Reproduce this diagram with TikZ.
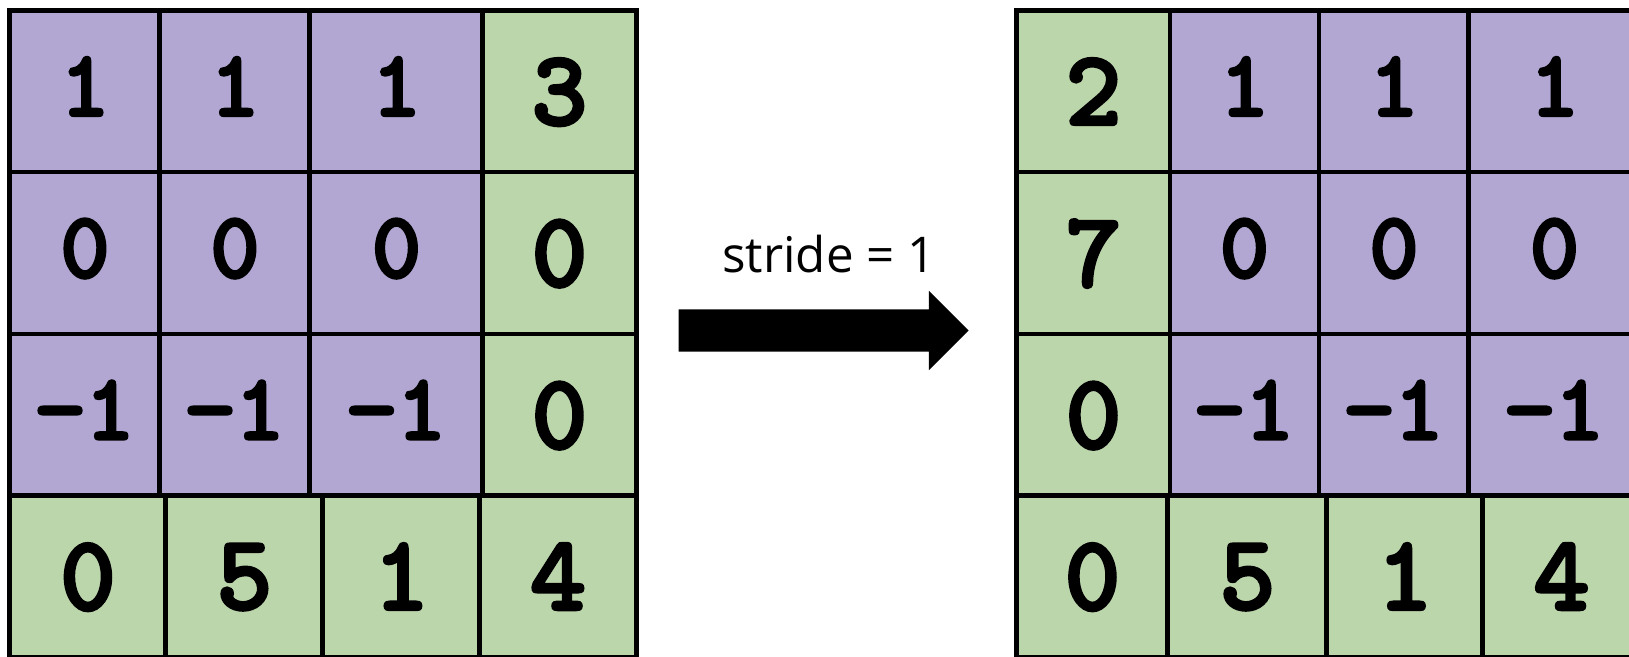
\documentclass[tikz,border=0pt]{standalone}
\usepackage{fontspec}
\setmainfont{Open Sans}
\newfontfamily\cellfont{lmmonolt10-bold.otf}[FakeBold=2.5]
\usetikzlibrary{shapes.arrows, positioning}
\definecolor{cellpurple}{RGB}{178,167,211}
\definecolor{cellgreen}{RGB}{188,214,172}

\begin{document}
\begin{tikzpicture}[x=0.01cm, y=-0.01cm,
    cell/.style={draw=black, line width=1.4pt, fill=#1, inner sep=0pt,
                 minimum height=1.62cm},
    pcell/.style={cell=cellpurple, text depth=0.1cm,
                  font=\cellfont\bfseries\fontsize{27}{27}\selectfont},
    gcell/.style={cell=cellgreen, text depth=0cm,
                  font=\cellfont\bfseries\fontsize{30.5}{30.5}\selectfont}
]
    \clip (0,0) rectangle (1629,656);

    % input matrix
    \node[pcell, minimum width=1.50cm] (l11) at (85,91.5) {1};
    \node[pcell, minimum width=1.50cm] (l12) at (235,91.5) {1};
    \node[pcell, minimum width=1.73cm] (l13) at (396.5,91.5) {1};
    \node[gcell, minimum width=1.53cm] (l14) at (559.5,91.5) {3};

    \node[pcell, minimum width=1.50cm] (l21) at (85,253) {0};
    \node[pcell, minimum width=1.50cm] (l22) at (235,253) {0};
    \node[pcell, minimum width=1.73cm] (l23) at (396.5,253) {0};
    \node[gcell, minimum width=1.53cm] (l24) at (559.5,253) {0};

    \node[pcell, minimum width=1.50cm] (l31) at (85,415) {−1};
    \node[pcell, minimum width=1.50cm] (l32) at (235,415) {−1};
    \node[pcell, minimum width=1.73cm] (l33) at (396.5,415) {−1};
    \node[gcell, minimum width=1.53cm] (l34) at (559.5,415) {0};

    \node[gcell, minimum width=1.56cm] (l41) at (88,576.5) {0};
    \node[gcell, minimum width=1.57cm] (l42) at (244.5,576.5) {5};
    \node[gcell, minimum width=1.57cm] (l43) at (401.5,576.5) {1};
    \node[gcell, minimum width=1.56cm] (l44) at (558,576.5) {4};

    % shift
    \node[single arrow, fill=black, inner sep=0pt, inner ysep=0.205cm,
          minimum height=2.9cm, single arrow head extend=0.185cm] (stridearrow) at (813,330.5) {};
    \node[font=\fontsize{14}{14}\selectfont] (stridelabel) at (829,254) {stride = 1};

    % output matrix
    \node[gcell, minimum width=1.53cm] (r11) at (1093.5,91.5) {2};
    \node[pcell, minimum width=1.49cm] (r12) at (1244.5,91.5) {1};
    \node[pcell, minimum width=1.50cm] (r13) at (1394,91.5) {1};
    \node[pcell, minimum width=1.71cm] (r14) at (1554.5,91.5) {1};

    \node[gcell, minimum width=1.53cm] (r21) at (1093.5,253) {7};
    \node[pcell, minimum width=1.49cm] (r22) at (1244.5,253) {0};
    \node[pcell, minimum width=1.50cm] (r23) at (1394,253) {0};
    \node[pcell, minimum width=1.71cm] (r24) at (1554.5,253) {0};

    \node[gcell, minimum width=1.53cm] (r31) at (1093.5,415) {0};
    \node[pcell, minimum width=1.49cm] (r32) at (1244.5,415) {−1};
    \node[pcell, minimum width=1.50cm] (r33) at (1394,415) {−1};
    \node[pcell, minimum width=1.71cm] (r34) at (1554.5,415) {−1};

    \node[gcell, minimum width=1.51cm] (r41) at (1092.5,576.5) {0};
    \node[gcell, minimum width=1.59cm] (r42) at (1247.5,576.5) {5};
    \node[gcell, minimum width=1.56cm] (r43) at (1405,576.5) {1};
    \node[gcell, minimum width=1.57cm] (r44) at (1561.5,576.5) {4};
\end{tikzpicture}
\end{document}
